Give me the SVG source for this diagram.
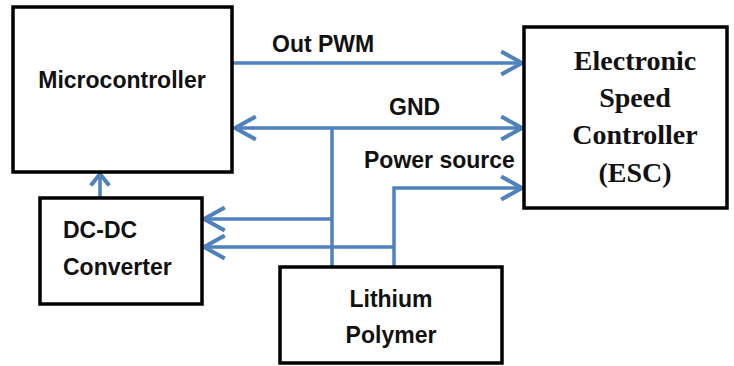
<svg xmlns="http://www.w3.org/2000/svg" width="734" height="366" viewBox="0 0 734 366">
<style>
.box{fill:#fff;stroke:#000;stroke-width:3.5}
.lbl{font-family:"Liberation Sans",Arial,sans-serif;font-weight:bold;font-size:23px;fill:#111}
.esc{font-family:"Liberation Serif","Times New Roman",serif;font-weight:bold;font-size:28px;fill:#111;text-anchor:middle}
.wire{fill:none;stroke:#4F81BD;stroke-width:3.5}
</style>
<defs>
<marker id="arr" markerUnits="userSpaceOnUse" markerWidth="30" markerHeight="30" refX="0" refY="0" viewBox="-22 -13 26 26" orient="auto-start-reverse" overflow="visible">
<path d="M-18,-10 L0,0 L-18,10" fill="none" stroke="#4F81BD" stroke-width="3.5" stroke-linejoin="round"/>
</marker>
<marker id="arrs" markerUnits="userSpaceOnUse" markerWidth="30" markerHeight="30" refX="0" refY="0" viewBox="-22 -13 26 26" orient="auto" overflow="visible">
<path d="M-10,-8 L0,0 L-10,8" fill="none" stroke="#4F81BD" stroke-width="3.5" stroke-linejoin="round"/>
</marker>
</defs>
<rect width="734" height="366" fill="#fff"/>
<g id="connectors">
<path class="wire" d="M232,63 H522" marker-end="url(#arr)"/>
<path class="wire" d="M235,128 H522" marker-start="url(#arr)" marker-end="url(#arr)"/>
<path class="wire" d="M332,128 V267"/>
<path class="wire" d="M332,219 H204" marker-end="url(#arr)"/>
<path class="wire" d="M394,267 V188 H522" marker-end="url(#arr)"/>
<path class="wire" d="M394,247 H204" marker-end="url(#arr)"/>
<path class="wire" d="M100,198 V174" marker-end="url(#arrs)"/>
<text class="lbl" x="272" y="52">Out PWM</text>
<text class="lbl" x="389" y="115">GND</text>
<text class="lbl" x="364" y="168">Power source</text>
</g>
<g id="microcontroller">
<rect class="box" x="13" y="7" width="219" height="165"/>
<text class="lbl" x="122" y="88" text-anchor="middle">Microcontroller</text>
</g>
<g id="esc">
<rect class="box" x="524" y="27" width="203" height="181"/>
<text class="esc" x="635" y="70">Electronic</text>
<text class="esc" x="635" y="107">Speed</text>
<text class="esc" x="635" y="144">Controller</text>
<text class="esc" x="635" y="182">(ESC)</text>
</g>
<g id="dcdc">
<rect class="box" x="40" y="198" width="162" height="106"/>
<text class="lbl" x="63" y="238">DC-DC</text>
<text class="lbl" x="63" y="275">Converter</text>
</g>
<g id="lipo">
<rect class="box" x="280" y="267" width="222" height="96"/>
<text class="lbl" x="391" y="307" text-anchor="middle">Lithium</text>
<text class="lbl" x="391" y="343" text-anchor="middle">Polymer</text>
</g>
</svg>
